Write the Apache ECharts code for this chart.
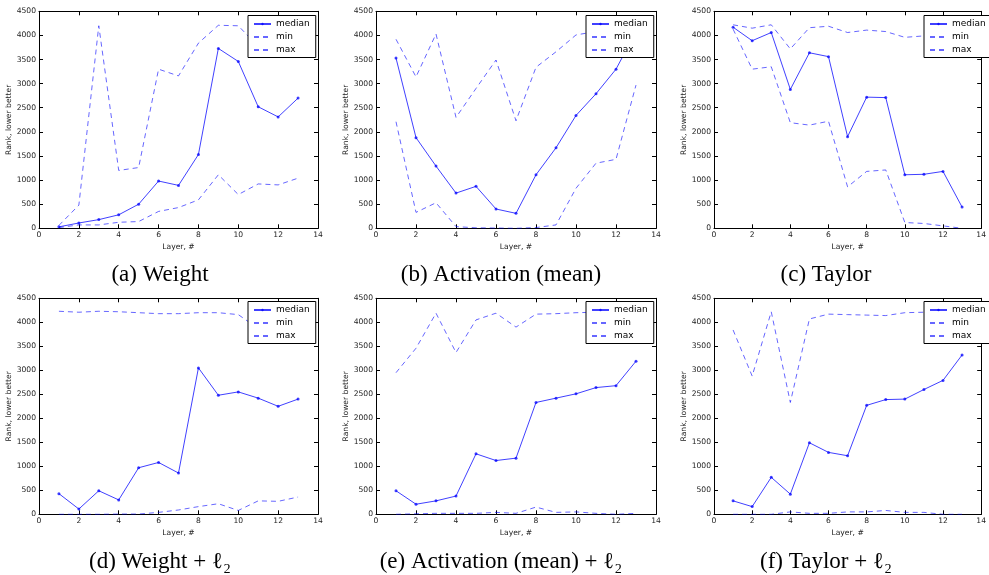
<!DOCTYPE html>
<html>
<head>
<meta charset="utf-8">
<script src="https://cdn.jsdelivr.net/npm/echarts@6/dist/echarts.min.js"></script>
<style>
html,body{margin:0;padding:0;background:#fff;}
#chart{width:989px;height:575px;}
</style>
</head>
<body>
<div id="chart"></div>
<script>
// ---- data ----
const layers = [1, 2, 3, 4, 5, 6, 7, 8, 9, 10, 11, 12, 13];
const xTicks = [0, 2, 4, 6, 8, 10, 12, 14];
const yTicks = [0, 500, 1000, 1500, 2000, 2500, 3000, 3500, 4000, 4500];
const seriesNames = ['median', 'min', 'max'];

const weightMedian = [30, 110, 180, 280, 500, 980, 890, 1530, 3730, 3460, 2520, 2310, 2700];
const weightMin    = [15, 70, 70, 125, 140, 350, 430, 590, 1110, 700, 920, 900, 1040];
const weightMax    = [60, 480, 4200, 1200, 1260, 3300, 3160, 3840, 4210, 4200, 3770, 3900, 4000];

const actMedian = [3530, 1880, 1290, 730, 870, 400, 310, 1110, 1670, 2340, 2790, 3300, 4080];
const actMin    = [2210, 330, 530, 35, 10, 5, 0, 15, 70, 830, 1350, 1430, 2970];
const actMax    = [3920, 3140, 4030, 2300, 2900, 3490, 2230, 3340, 3660, 4010, 4080, 4150, 4200];

const taylorMedian = [4170, 3890, 4060, 2880, 3640, 3560, 1900, 2720, 2710, 1110, 1120, 1180, 440];
const taylorMin    = [4130, 3300, 3350, 2190, 2140, 2220, 860, 1180, 1210, 120, 100, 50, 0];
const taylorMax    = [4220, 4150, 4220, 3720, 4160, 4190, 4060, 4110, 4080, 3960, 3990, 4000, 4000];

const weightL2Median = [430, 110, 490, 300, 970, 1080, 860, 3050, 2480, 2550, 2420, 2250, 2400];
const weightL2Min    = [0, 0, 0, 5, 5, 40, 90, 160, 220, 80, 280, 270, 360];
const weightL2Max    = [4230, 4210, 4230, 4220, 4200, 4180, 4180, 4200, 4200, 4160, 3870, 3900, 3950];

const actL2Median = [490, 210, 280, 380, 1260, 1120, 1170, 2330, 2420, 2510, 2640, 2680, 3190];
const actL2Min    = [0, 10, 20, 20, 20, 40, 20, 150, 40, 50, 20, 0, 20];
const actL2Max    = [2950, 3460, 4190, 3370, 4050, 4190, 3900, 4170, 4180, 4200, 4210, 4200, 4200];

const taylorL2Median = [280, 160, 770, 420, 1490, 1290, 1220, 2270, 2390, 2400, 2600, 2790, 3320];
const taylorL2Min    = [0, 0, 0, 50, 20, 20, 50, 50, 80, 40, 40, 0, 0];
const taylorL2Max    = [3840, 2880, 4220, 2330, 4070, 4170, 4160, 4150, 4140, 4200, 4210, 4200, 4200];

const captions = ['(a) Weight', '(b) Activation (mean)', '(c) Taylor',
                  '(d) Weight + ℓ₂', '(e) Activation (mean) + ℓ₂', '(f) Taylor + ℓ₂'];

const panelData = [
  [weightMedian, weightMin, weightMax],
  [actMedian, actMin, actMax],
  [taylorMedian, taylorMin, taylorMax],
  [weightL2Median, weightL2Min, weightL2Max],
  [actL2Median, actL2Min, actL2Max],
  [taylorL2Median, taylorL2Min, taylorL2Max]
];

// ---- layout ----
const colLeft = [39, 376, 714];
const colWidth = [279, 280, 279];
const rowTop = [11.3, 298.3];
const rowHeight = [217, 216];
const legendLeft = [248, 586, 924];
const legendTop = [15.5, 301.5];
const captionX = [160, 501, 826];
const captionY = [275, 562];

const tickFont = 7.6;
const fontSans = 'DejaVu Sans';

const grids = [], xAxes = [], yAxes = [], series = [], legends = [], graphics = [];
const plain = v => String(v);

for (let p = 0; p < 6; p++) {
  const c = p % 3, r = Math.floor(p / 3);
  grids.push({ left: colLeft[c], top: rowTop[r], width: colWidth[c], height: rowHeight[r], containLabel: false });
  const axisLine = { show: true, onZero: false, lineStyle: { color: '#000', width: 1 } };
  const axisTick = { show: true, inside: true, length: 4, lineStyle: { color: '#000', width: 1 } };
  xAxes.push({
    type: 'value', gridIndex: p, position: 'bottom', min: xTicks[0], max: xTicks[xTicks.length - 1],
    interval: xTicks[1] - xTicks[0],
    axisLine, axisTick, splitLine: { show: false },
    axisLabel: { fontSize: tickFont, color: '#222', margin: 3, fontFamily: fontSans, formatter: plain },
    name: 'Layer, #', nameLocation: 'middle', nameGap: 15,
    nameTextStyle: { fontSize: tickFont, color: '#222', fontFamily: fontSans }
  });
  xAxes.push({
    type: 'value', gridIndex: p, position: 'top', min: xTicks[0], max: xTicks[xTicks.length - 1],
    interval: xTicks[1] - xTicks[0],
    axisLine, axisTick, splitLine: { show: false }, axisLabel: { show: false }
  });
  yAxes.push({
    type: 'value', gridIndex: p, position: 'left', min: yTicks[0], max: yTicks[yTicks.length - 1],
    interval: yTicks[1] - yTicks[0],
    axisLine, axisTick, splitLine: { show: false },
    axisLabel: { fontSize: tickFont, color: '#222', margin: 3, fontFamily: fontSans, formatter: plain },
    name: 'Rank, lower better', nameLocation: 'middle', nameGap: 23, nameRotate: 90,
    nameTextStyle: { fontSize: tickFont, color: '#222', fontFamily: fontSans }
  });
  yAxes.push({
    type: 'value', gridIndex: p, position: 'right', min: yTicks[0], max: yTicks[yTicks.length - 1],
    interval: yTicks[1] - yTicks[0],
    axisLine, axisTick, splitLine: { show: false }, axisLabel: { show: false }
  });

  panelData[p].forEach((arr, k) => {
    const isMedian = k === 0;
    series.push({
      type: 'line', name: seriesNames[k], xAxisIndex: 2 * p, yAxisIndex: 2 * p,
      data: layers.map((l, j) => [l, arr[j]]),
      symbol: isMedian ? 'circle' : 'none', symbolSize: 3, showSymbol: isMedian,
      animation: false, silent: true, clip: true,
      itemStyle: { color: isMedian ? 'rgba(0,0,255,0.75)' : 'rgba(0,0,255,0.6)' },
      lineStyle: isMedian
        ? { color: 'rgba(0,0,255,0.75)', width: 1, type: 'solid' }
        : { color: 'rgba(0,0,255,0.6)', width: 1, type: [5, 4] },
      z: 2
    });
  });

  legends.push({
    orient: 'vertical', left: legendLeft[c], top: legendTop[r],
    data: seriesNames.map((n, k) => k === 0
      ? { name: n }
      : { name: n, itemStyle: { opacity: 0 } }),
    backgroundColor: '#fff', borderColor: '#000', borderWidth: 1, borderRadius: 0,
    padding: [3, 6, 2, 5], itemGap: 2, itemWidth: 17, itemHeight: 3,
    textStyle: { fontSize: 9, color: '#000', fontFamily: fontSans, lineHeight: 11 },
    selectedMode: false, z: 10
  });

  graphics.push({
    type: 'text', x: captionX[c], y: captionY[r],
    style: {
      text: captions[p], fill: '#000', textAlign: 'center', textVerticalAlign: 'middle',
      font: '23px "Liberation Serif", "DejaVu Serif", serif'
    }
  });
}

const chart = echarts.init(document.getElementById('chart'), null, { renderer: 'canvas' });
chart.setOption({
  backgroundColor: '#fff',
  animation: false,
  grid: grids, xAxis: xAxes, yAxis: yAxes, series, legend: legends, graphic: graphics
});
</script>
</body>
</html>
